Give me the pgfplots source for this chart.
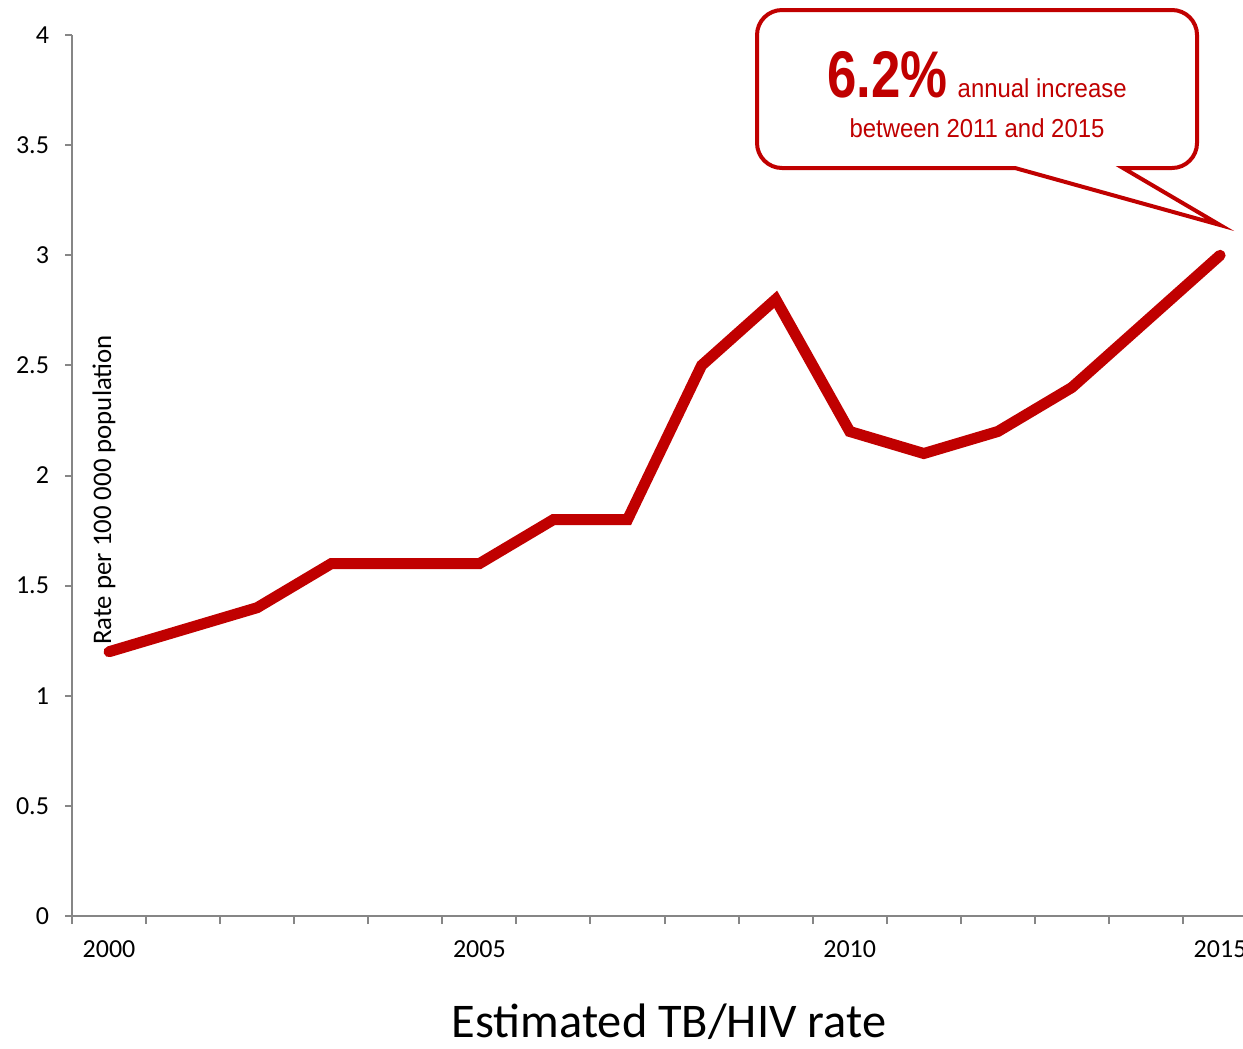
\documentclass[border=0pt]{standalone}
\usepackage{pgfplots}
\pgfplotsset{compat=1.18}
\usepackage{fontspec}
\setmainfont{Carlito}
\newfontfamily\calloutfont{Liberation Sans}
\definecolor{tbred}{HTML}{C00000}
\definecolor{axgray}{HTML}{868686}

\begin{document}
\begin{tikzpicture}
\begin{axis}[
    at={(36bp,-458bp)}, anchor=south west,
    scale only axis, width=585.5bp, height=440.5bp,
    xmin=1999.5, xmax=2015.31,
    ymin=0, ymax=4,
    axis lines=left,
    axis line style={-, draw=axgray, line width=1bp},
    tick style={draw=axgray, line width=1bp},
    tick align=outside,
    xtick={2000,2005,2010,2015},
    major x tick style={draw=none},
    minor xtick={1999.5,2000.5,...,2014.5},
    minor tick length=4bp,
    major tick length=3.5bp,
    ytick={0,0.5,...,4},
    x tick label style={/pgf/number format/1000 sep={}},
    tick label style={font=\fontsize{13bp}{15bp}\selectfont},
    /pgf/number format/assume math mode=true,
    xticklabel style={yshift=-5.5bp},
    yticklabel style={xshift=-4.5bp},
    clip=false,
]
\addplot[tbred, line width=5.5bp, line cap=round, mark=none]
    coordinates {
    (2000,1.2)(2001,1.3)(2002,1.4)(2003,1.6)(2004,1.6)(2005,1.6)
    (2006,1.8)(2007,1.8)(2008,2.5)(2009,2.8)(2010,2.2)(2011,2.1)
    (2012,2.2)(2013,2.4)(2014,2.7)(2015,3.0)
    };
\end{axis}
\begin{scope}[x=0.5bp, y=0.5bp]
% axis title and y label
\node[rotate=90, font=\fontsize{13.4bp}{15bp}\selectfont] at (104,-490) {Rate per 100 000 population};
\node[font=\fontsize{24.2bp}{28bp}\selectfont] at (669,-1022) {Estimated TB/HIV rate};
% callout
\draw[tbred, line width=2bp, fill=white]
    (1220,-225) -- (1123,-168) [rounded corners=12.5bp] -- (1197,-168) -- (1197,-10)
    -- (757,-10) -- (757,-168) [sharp corners] -- (1015,-168) -- cycle;
\node[anchor=base, text=tbred, inner sep=0] at (977,-97)
    {\calloutfont\scalebox{0.8}[1]{\fontsize{33bp}{36bp}\selectfont\bfseries 6.2\%}\hspace{5bp}\scalebox{0.92}[1]{\fontsize{13bp}{15bp}\selectfont annual increase}};
\node[anchor=base, text=tbred, inner sep=0] at (977,-137)
    {\calloutfont\scalebox{0.92}[1]{\fontsize{13bp}{15bp}\selectfont between 2011 and 2015}};
\pgfresetboundingbox
\path[use as bounding box] (0,0) rectangle (1243,-1048);
\end{scope}
\end{tikzpicture}
\end{document}
